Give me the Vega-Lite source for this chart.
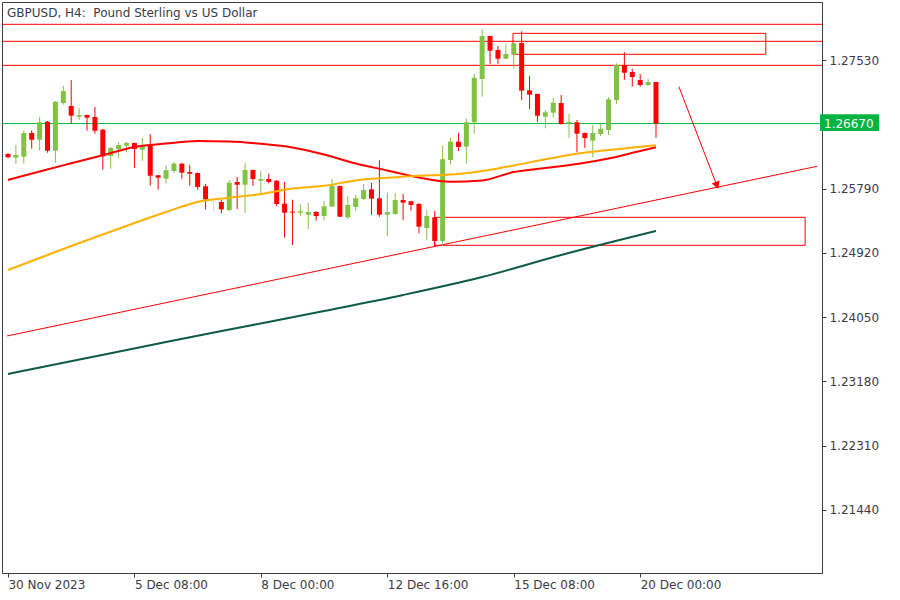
{
  "$schema": "https://vega.github.io/schema/vega-lite/v6.json",
  "width": 820,
  "height": 571,
  "autosize": {"type": "none"},
  "padding": {"left": 2, "top": 2, "right": 78, "bottom": 27},
  "background": "white",
  "config": {
    "view": {"stroke": "#3c3c46", "strokeWidth": 1},
    "font": "DejaVu Sans",
    "axis": {"grid": false, "title": null, "domainColor": "#3c3c46", "tickColor": "#3c3c46", "labelColor": "#3c3c46", "labelFont": "DejaVu Sans", "labelFontSize": 12}
  },
  "title": {
    "text": "GBPUSD, H4:\u00a0 Pound Sterling vs US Dollar",
    "anchor": "start",
    "frame": "group",
    "offset": -18,
    "dx": 5,
    "font": "DejaVu Sans",
    "fontSize": 12,
    "fontWeight": "normal",
    "color": "#3c3c46"
  },
  "datasets": {
    "candles": [
      {"i": 0, "o": 1.26258, "h": 1.26271, "l": 1.26204, "c": 1.26213, "dir": "down"},
      {"i": 1, "o": 1.26208, "h": 1.26380, "l": 1.26127, "c": 1.26244, "dir": "up"},
      {"i": 2, "o": 1.26221, "h": 1.26573, "l": 1.26127, "c": 1.26542, "dir": "up"},
      {"i": 3, "o": 1.26542, "h": 1.26579, "l": 1.26330, "c": 1.26451, "dir": "down"},
      {"i": 4, "o": 1.26451, "h": 1.26759, "l": 1.26302, "c": 1.26687, "dir": "up"},
      {"i": 5, "o": 1.26695, "h": 1.26704, "l": 1.26275, "c": 1.26302, "dir": "down"},
      {"i": 6, "o": 1.26302, "h": 1.26975, "l": 1.26140, "c": 1.26966, "dir": "up"},
      {"i": 7, "o": 1.26948, "h": 1.27182, "l": 1.26925, "c": 1.27110, "dir": "up"},
      {"i": 8, "o": 1.26907, "h": 1.27259, "l": 1.26668, "c": 1.26776, "dir": "down"},
      {"i": 9, "o": 1.26763, "h": 1.26876, "l": 1.26718, "c": 1.26786, "dir": "up"},
      {"i": 10, "o": 1.26786, "h": 1.26792, "l": 1.26573, "c": 1.26749, "dir": "down"},
      {"i": 11, "o": 1.26759, "h": 1.26894, "l": 1.26533, "c": 1.26573, "dir": "down"},
      {"i": 12, "o": 1.26587, "h": 1.26596, "l": 1.26045, "c": 1.26227, "dir": "down"},
      {"i": 13, "o": 1.26231, "h": 1.26353, "l": 1.26059, "c": 1.26339, "dir": "up"},
      {"i": 14, "o": 1.26325, "h": 1.26420, "l": 1.26208, "c": 1.26380, "dir": "up"},
      {"i": 15, "o": 1.26370, "h": 1.26424, "l": 1.26281, "c": 1.26407, "dir": "up"},
      {"i": 16, "o": 1.26407, "h": 1.26413, "l": 1.26072, "c": 1.26325, "dir": "down"},
      {"i": 17, "o": 1.26316, "h": 1.26474, "l": 1.26163, "c": 1.26370, "dir": "up"},
      {"i": 18, "o": 1.26376, "h": 1.26528, "l": 1.25829, "c": 1.25964, "dir": "down"},
      {"i": 19, "o": 1.25970, "h": 1.25974, "l": 1.25775, "c": 1.25937, "dir": "down"},
      {"i": 20, "o": 1.25924, "h": 1.26105, "l": 1.25856, "c": 1.26037, "dir": "up"},
      {"i": 21, "o": 1.26028, "h": 1.26150, "l": 1.26005, "c": 1.26127, "dir": "up"},
      {"i": 22, "o": 1.26127, "h": 1.26140, "l": 1.25924, "c": 1.26005, "dir": "down"},
      {"i": 23, "o": 1.26014, "h": 1.26109, "l": 1.25829, "c": 1.25991, "dir": "down"},
      {"i": 24, "o": 1.26001, "h": 1.26007, "l": 1.25775, "c": 1.25811, "dir": "down"},
      {"i": 25, "o": 1.25821, "h": 1.25852, "l": 1.25513, "c": 1.25645, "dir": "down"},
      {"i": 26, "o": 1.25615, "h": 1.25615, "l": 1.25473, "c": 1.25605, "dir": "doji"},
      {"i": 27, "o": 1.25608, "h": 1.25635, "l": 1.25455, "c": 1.25509, "dir": "down"},
      {"i": 28, "o": 1.25500, "h": 1.25906, "l": 1.25482, "c": 1.25869, "dir": "up"},
      {"i": 29, "o": 1.25879, "h": 1.25946, "l": 1.25513, "c": 1.25842, "dir": "down"},
      {"i": 30, "o": 1.25842, "h": 1.26136, "l": 1.25463, "c": 1.26041, "dir": "up"},
      {"i": 31, "o": 1.26041, "h": 1.26048, "l": 1.25825, "c": 1.25919, "dir": "down"},
      {"i": 32, "o": 1.25896, "h": 1.26028, "l": 1.25720, "c": 1.25919, "dir": "up"},
      {"i": 33, "o": 1.25919, "h": 1.25991, "l": 1.25861, "c": 1.25879, "dir": "down"},
      {"i": 34, "o": 1.25896, "h": 1.25906, "l": 1.25554, "c": 1.25581, "dir": "down"},
      {"i": 35, "o": 1.25585, "h": 1.25879, "l": 1.25125, "c": 1.25463, "dir": "down"},
      {"i": 36, "o": 1.25477, "h": 1.25639, "l": 1.25026, "c": 1.25465, "dir": "down"},
      {"i": 37, "o": 1.25463, "h": 1.25572, "l": 1.25419, "c": 1.25482, "dir": "up"},
      {"i": 38, "o": 1.25436, "h": 1.25595, "l": 1.25243, "c": 1.25473, "dir": "up"},
      {"i": 39, "o": 1.25473, "h": 1.25486, "l": 1.25355, "c": 1.25419, "dir": "down"},
      {"i": 40, "o": 1.25419, "h": 1.25622, "l": 1.25355, "c": 1.25550, "dir": "up"},
      {"i": 41, "o": 1.25545, "h": 1.25919, "l": 1.25541, "c": 1.25829, "dir": "up"},
      {"i": 42, "o": 1.25825, "h": 1.25831, "l": 1.25405, "c": 1.25409, "dir": "down"},
      {"i": 43, "o": 1.25401, "h": 1.25689, "l": 1.25378, "c": 1.25568, "dir": "up"},
      {"i": 44, "o": 1.25541, "h": 1.25703, "l": 1.25490, "c": 1.25658, "dir": "up"},
      {"i": 45, "o": 1.25649, "h": 1.25852, "l": 1.25635, "c": 1.25771, "dir": "up"},
      {"i": 46, "o": 1.25780, "h": 1.25865, "l": 1.25436, "c": 1.25653, "dir": "down"},
      {"i": 47, "o": 1.25658, "h": 1.26177, "l": 1.25409, "c": 1.25436, "dir": "down"},
      {"i": 48, "o": 1.25436, "h": 1.25734, "l": 1.25148, "c": 1.25473, "dir": "up"},
      {"i": 49, "o": 1.25446, "h": 1.25730, "l": 1.25436, "c": 1.25635, "dir": "up"},
      {"i": 50, "o": 1.25635, "h": 1.25716, "l": 1.25365, "c": 1.25599, "dir": "down"},
      {"i": 51, "o": 1.25618, "h": 1.25626, "l": 1.25490, "c": 1.25568, "dir": "down"},
      {"i": 52, "o": 1.25581, "h": 1.25595, "l": 1.25185, "c": 1.25274, "dir": "down"},
      {"i": 53, "o": 1.25256, "h": 1.25500, "l": 1.25098, "c": 1.25419, "dir": "up"},
      {"i": 54, "o": 1.25401, "h": 1.25486, "l": 1.25009, "c": 1.25080, "dir": "down"},
      {"i": 55, "o": 1.25080, "h": 1.26369, "l": 1.25013, "c": 1.26187, "dir": "up"},
      {"i": 56, "o": 1.26177, "h": 1.26478, "l": 1.26113, "c": 1.26424, "dir": "up"},
      {"i": 57, "o": 1.26424, "h": 1.26542, "l": 1.26298, "c": 1.26353, "dir": "down"},
      {"i": 58, "o": 1.26357, "h": 1.26741, "l": 1.26127, "c": 1.26687, "dir": "up"},
      {"i": 59, "o": 1.26687, "h": 1.27345, "l": 1.26533, "c": 1.27290, "dir": "up"},
      {"i": 60, "o": 1.27273, "h": 1.27954, "l": 1.27033, "c": 1.27855, "dir": "up"},
      {"i": 61, "o": 1.27855, "h": 1.27862, "l": 1.27476, "c": 1.27656, "dir": "down"},
      {"i": 62, "o": 1.27665, "h": 1.27719, "l": 1.27480, "c": 1.27548, "dir": "down"},
      {"i": 63, "o": 1.27548, "h": 1.27747, "l": 1.27541, "c": 1.27611, "dir": "up"},
      {"i": 64, "o": 1.27602, "h": 1.27760, "l": 1.27412, "c": 1.27756, "dir": "up"},
      {"i": 65, "o": 1.27760, "h": 1.27918, "l": 1.26989, "c": 1.27115, "dir": "down"},
      {"i": 66, "o": 1.27120, "h": 1.27313, "l": 1.26863, "c": 1.27060, "dir": "down"},
      {"i": 67, "o": 1.27070, "h": 1.27077, "l": 1.26691, "c": 1.26776, "dir": "down"},
      {"i": 68, "o": 1.26763, "h": 1.26853, "l": 1.26606, "c": 1.26822, "dir": "up"},
      {"i": 69, "o": 1.26817, "h": 1.27016, "l": 1.26755, "c": 1.26952, "dir": "up"},
      {"i": 70, "o": 1.26948, "h": 1.27056, "l": 1.26654, "c": 1.26664, "dir": "down"},
      {"i": 71, "o": 1.26673, "h": 1.26799, "l": 1.26474, "c": 1.26691, "dir": "up"},
      {"i": 72, "o": 1.26687, "h": 1.26718, "l": 1.26281, "c": 1.26533, "dir": "down"},
      {"i": 73, "o": 1.26542, "h": 1.26549, "l": 1.26339, "c": 1.26474, "dir": "down"},
      {"i": 74, "o": 1.26438, "h": 1.26650, "l": 1.26213, "c": 1.26542, "dir": "up"},
      {"i": 75, "o": 1.26528, "h": 1.26664, "l": 1.26501, "c": 1.26600, "dir": "up"},
      {"i": 76, "o": 1.26583, "h": 1.27029, "l": 1.26515, "c": 1.26998, "dir": "up"},
      {"i": 77, "o": 1.26989, "h": 1.27485, "l": 1.26939, "c": 1.27462, "dir": "up"},
      {"i": 78, "o": 1.27462, "h": 1.27638, "l": 1.27263, "c": 1.27358, "dir": "down"},
      {"i": 79, "o": 1.27368, "h": 1.27408, "l": 1.27169, "c": 1.27300, "dir": "down"},
      {"i": 80, "o": 1.27259, "h": 1.27341, "l": 1.27169, "c": 1.27192, "dir": "down"},
      {"i": 81, "o": 1.27192, "h": 1.27277, "l": 1.27178, "c": 1.27232, "dir": "up"},
      {"i": 82, "o": 1.27232, "h": 1.27232, "l": 1.26478, "c": 1.26670, "dir": "down"}
    ],
    "ma": [
      {"ma": "ma50", "i": 0, "v": 1.25906}, {"ma": "ma50", "i": 4, "v": 1.26021}, {"ma": "ma50", "i": 8, "v": 1.26132},
      {"ma": "ma50", "i": 12, "v": 1.26242}, {"ma": "ma50", "i": 16, "v": 1.26353}, {"ma": "ma50", "i": 20, "v": 1.26400},
      {"ma": "ma50", "i": 24, "v": 1.26434}, {"ma": "ma50", "i": 28, "v": 1.26427}, {"ma": "ma50", "i": 32, "v": 1.26396},
      {"ma": "ma50", "i": 36, "v": 1.26346}, {"ma": "ma50", "i": 40, "v": 1.26251}, {"ma": "ma50", "i": 44, "v": 1.26129},
      {"ma": "ma50", "i": 48, "v": 1.26035}, {"ma": "ma50", "i": 52, "v": 1.25940}, {"ma": "ma50", "i": 56, "v": 1.25883},
      {"ma": "ma50", "i": 60, "v": 1.25899}, {"ma": "ma50", "i": 64, "v": 1.26014}, {"ma": "ma50", "i": 68, "v": 1.26068},
      {"ma": "ma50", "i": 72, "v": 1.26122}, {"ma": "ma50", "i": 76, "v": 1.26197}, {"ma": "ma50", "i": 80, "v": 1.26298},
      {"ma": "ma50", "i": 82, "v": 1.26348},
      {"ma": "ma100", "i": 0, "v": 1.24688}, {"ma": "ma100", "i": 4, "v": 1.24850}, {"ma": "ma100", "i": 8, "v": 1.25013},
      {"ma": "ma100", "i": 12, "v": 1.25168}, {"ma": "ma100", "i": 16, "v": 1.25324}, {"ma": "ma100", "i": 20, "v": 1.25473},
      {"ma": "ma100", "i": 24, "v": 1.25608}, {"ma": "ma100", "i": 28, "v": 1.25665}, {"ma": "ma100", "i": 32, "v": 1.25716},
      {"ma": "ma100", "i": 36, "v": 1.25791}, {"ma": "ma100", "i": 40, "v": 1.25827}, {"ma": "ma100", "i": 44, "v": 1.25900},
      {"ma": "ma100", "i": 48, "v": 1.25936}, {"ma": "ma100", "i": 52, "v": 1.25964}, {"ma": "ma100", "i": 56, "v": 1.25980},
      {"ma": "ma100", "i": 60, "v": 1.26028}, {"ma": "ma100", "i": 64, "v": 1.26102}, {"ma": "ma100", "i": 68, "v": 1.26186},
      {"ma": "ma100", "i": 72, "v": 1.26261}, {"ma": "ma100", "i": 76, "v": 1.26312}, {"ma": "ma100", "i": 80, "v": 1.26355},
      {"ma": "ma100", "i": 82, "v": 1.26376},
      {"ma": "ma200", "i": 0, "v": 1.23280}, {"ma": "ma200", "i": 10, "v": 1.23497}, {"ma": "ma200", "i": 20, "v": 1.23713},
      {"ma": "ma200", "i": 30, "v": 1.23923}, {"ma": "ma200", "i": 40, "v": 1.24133}, {"ma": "ma200", "i": 50, "v": 1.24350},
      {"ma": "ma200", "i": 60, "v": 1.24593}, {"ma": "ma200", "i": 70, "v": 1.24891}, {"ma": "ma200", "i": 82, "v": 1.25216}
    ],
    "levels": [
      {"p": 1.28013, "kind": "level"},
      {"p": 1.27783, "kind": "level"},
      {"p": 1.27458, "kind": "level"},
      {"p": 1.26670, "kind": "price"}
    ],
    "zones": [
      {"i1": 63.9, "i2": 95.9, "p1": 1.27891, "p2": 1.27607},
      {"i1": 54.0, "i2": 100.875, "p1": 1.25401, "p2": 1.25022}
    ],
    "trend": [
      {"i": -0.125, "p": 1.23795},
      {"i": 102.375, "p": 1.26091}
    ],
    "arrow": [
      {"i1": 84.9, "p1": 1.27169, "i2": 89.84, "p2": 1.25794}
    ],
    "lastprice": [
      {"p": 1.26670, "label": "1.26670", "top": 1.26795, "bottom": 1.26569}
    ]
  },
  "layer": [
    {
      "data": {"name": "levels"},
      "transform": [{"filter": "datum.kind == 'level'"}],
      "mark": {"type": "rule", "strokeWidth": 1, "color": "#ff0000"},
      "encoding": {
        "y": {"field": "p", "type": "quantitative", "scale": {"domain": [1.20587, 1.28315], "zero": false, "nice": false},
          "axis": {"orient": "right", "values": [1.2144, 1.2231, 1.2318, 1.2405, 1.2492, 1.2579, 1.2753], "format": ".5f", "tickSize": 4, "labelPadding": 3, "domain": true}}
      }
    },
    {
      "data": {"name": "levels"},
      "transform": [{"filter": "datum.kind == 'price'"}],
      "mark": {"type": "rule", "strokeWidth": 1, "color": "#00c040"},
      "encoding": {
        "y": {"field": "p", "type": "quantitative", "scale": {"domain": [1.20587, 1.28315], "zero": false, "nice": false}}
      }
    },
    {
      "data": {"name": "zones"},
      "mark": {"type": "rect", "filled": false, "stroke": "#ff0000", "strokeWidth": 1, "clip": true},
      "encoding": {
        "x": {"field": "i1", "type": "quantitative", "scale": {"domain": [-0.125, 102.375], "zero": false, "nice": false},
          "axis": {"orient": "bottom", "values": [0, 16, 32, 48, 64, 80], "labelAlign": "left", "tickSize": 4, "labelPadding": 2,
            "labelExpr": "datum.value == 0 ? '30 Nov 2023' : datum.value == 16 ? '5 Dec 08:00' : datum.value == 32 ? '8 Dec 00:00' : datum.value == 48 ? '12 Dec 16:00' : datum.value == 64 ? '15 Dec 08:00' : '20 Dec 00:00'"}},
        "x2": {"field": "i2"},
        "y": {"field": "p1", "type": "quantitative", "scale": {"domain": [1.20587, 1.28315], "zero": false, "nice": false}},
        "y2": {"field": "p2"}
      }
    },
    {
      "data": {"name": "trend"},
      "mark": {"type": "line", "color": "#ff0000", "strokeWidth": 1, "clip": true},
      "encoding": {
        "x": {"field": "i", "type": "quantitative", "scale": {"domain": [-0.125, 102.375], "zero": false, "nice": false}},
        "y": {"field": "p", "type": "quantitative", "scale": {"domain": [1.20587, 1.28315], "zero": false, "nice": false}}
      }
    },
    {
      "data": {"name": "arrow"},
      "mark": {"type": "rule", "color": "#ff0000", "strokeWidth": 1},
      "encoding": {
        "x": {"field": "i1", "type": "quantitative", "scale": {"domain": [-0.125, 102.375], "zero": false, "nice": false}},
        "x2": {"field": "i2"},
        "y": {"field": "p1", "type": "quantitative", "scale": {"domain": [1.20587, 1.28315], "zero": false, "nice": false}},
        "y2": {"field": "p2"}
      }
    },
    {
      "data": {"name": "arrow"},
      "mark": {"type": "point", "shape": "triangle-down", "filled": true, "color": "#ff0000", "size": 70, "angle": 339, "opacity": 1, "yOffset": -3, "xOffset": -1},
      "encoding": {
        "x": {"field": "i2", "type": "quantitative", "scale": {"domain": [-0.125, 102.375], "zero": false, "nice": false}},
        "y": {"field": "p2", "type": "quantitative", "scale": {"domain": [1.20587, 1.28315], "zero": false, "nice": false}}
      }
    },
    {
      "data": {"name": "candles"},
      "mark": {"type": "rule", "strokeWidth": 1, "clip": true},
      "encoding": {
        "x": {"field": "i", "type": "quantitative", "scale": {"domain": [-0.125, 102.375], "zero": false, "nice": false}},
        "y": {"field": "l", "type": "quantitative", "scale": {"domain": [1.20587, 1.28315], "zero": false, "nice": false}},
        "y2": {"field": "h"},
        "color": {"field": "dir", "type": "nominal", "scale": {"domain": ["up", "down", "doji"], "range": ["#80c342", "#ff0000", "#d8d8d8"]}, "legend": null}
      }
    },
    {
      "data": {"name": "candles"},
      "mark": {"type": "bar", "size": 5, "clip": true},
      "encoding": {
        "x": {"field": "i", "type": "quantitative", "scale": {"domain": [-0.125, 102.375], "zero": false, "nice": false}},
        "y": {"field": "o", "type": "quantitative", "scale": {"domain": [1.20587, 1.28315], "zero": false, "nice": false}},
        "y2": {"field": "c"},
        "color": {"field": "dir", "type": "nominal", "scale": {"domain": ["up", "down", "doji"], "range": ["#80c342", "#ff0000", "#d8d8d8"]}, "legend": null}
      }
    },
    {
      "data": {"name": "ma"},
      "mark": {"type": "line", "clip": true, "interpolate": "monotone"},
      "encoding": {
        "x": {"field": "i", "type": "quantitative", "scale": {"domain": [-0.125, 102.375], "zero": false, "nice": false}},
        "y": {"field": "v", "type": "quantitative", "scale": {"domain": [1.20587, 1.28315], "zero": false, "nice": false}},
        "detail": {"field": "ma", "type": "nominal"},
        "stroke": {"field": "ma", "type": "nominal", "scale": {"domain": ["ma50", "ma100", "ma200"], "range": ["#ff0000", "#ffb000", "#0f5a46"]}, "legend": null},
        "strokeWidth": {"field": "ma", "type": "nominal", "scale": {"domain": ["ma50", "ma100", "ma200"], "range": [2, 2, 3]}, "legend": null}
      }
    },
    {
      "data": {"name": "lastprice"},
      "mark": {"type": "rect", "fill": "#00b441", "clip": false},
      "encoding": {
        "x": {"datum": 102.75, "type": "quantitative", "scale": {"domain": [-0.125, 102.375], "zero": false, "nice": false}},
        "x2": {"datum": 110.25},
        "y": {"field": "top", "type": "quantitative", "scale": {"domain": [1.20587, 1.28315], "zero": false, "nice": false}},
        "y2": {"field": "bottom"}
      }
    },
    {
      "data": {"name": "lastprice"},
      "mark": {"type": "text", "color": "white", "align": "left", "baseline": "middle", "dx": 7, "fontSize": 12, "font": "DejaVu Sans", "clip": false},
      "encoding": {
        "x": {"datum": 102.375, "type": "quantitative", "scale": {"domain": [-0.125, 102.375], "zero": false, "nice": false}},
        "y": {"field": "p", "type": "quantitative", "scale": {"domain": [1.20587, 1.28315], "zero": false, "nice": false}},
        "text": {"field": "label"}
      }
    }
  ]
}
